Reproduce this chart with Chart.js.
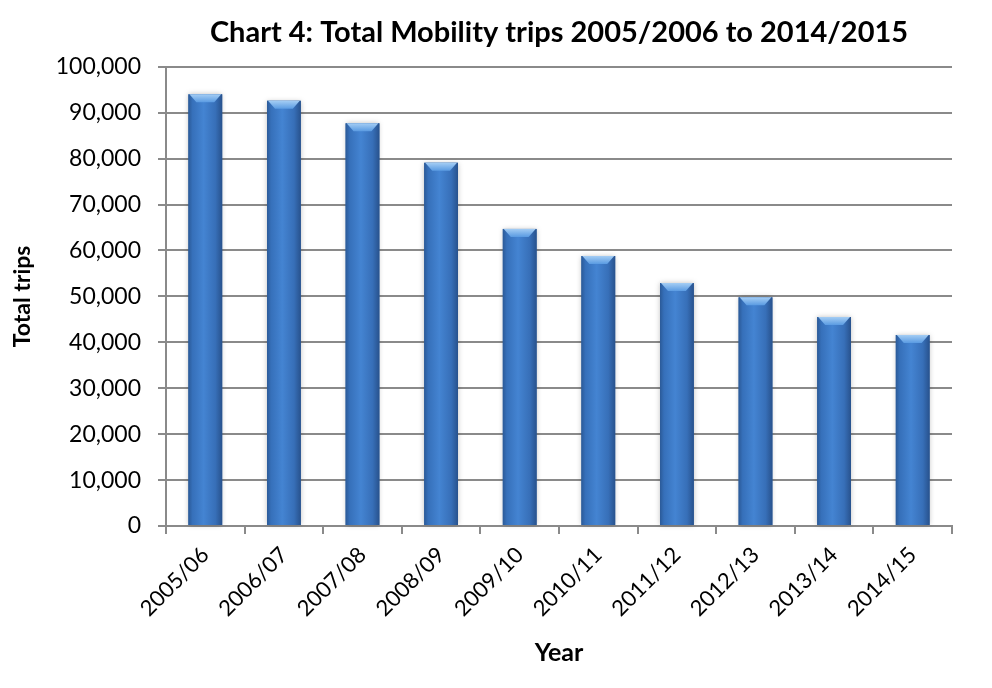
<!DOCTYPE html>
<html>
<head>
<meta charset="utf-8">
<script src="https://cdn.jsdelivr.net/npm/chart.js@4.4.1/dist/chart.umd.min.js"></script>
<style>
  html, body { margin: 0; padding: 0; background: #ffffff; }
  #wrap { width: 992px; height: 688px; }
</style>
</head>
<body>
<div id="wrap"><canvas id="grafico"></canvas></div>
<script>
// Viagens por ano fiscal
const anos = ['2005/06', '2006/07', '2007/08', '2008/09', '2009/10',
              '2010/11', '2011/12', '2012/13', '2013/14', '2014/15'];
const viagens = [94000, 92600, 87700, 79100, 64700, 58800, 52900, 49800, 45500, 41600];
const ticksY = [0, 10000, 20000, 30000, 40000, 50000, 60000, 70000, 80000, 90000, 100000];

const fonte = 'Lato, "Liberation Sans", sans-serif';
const cinza = '#8a8a8a';

// sombreamento tipo cilindro + chanfro no topo de cada barra
const efeitoBarras = {
    id: 'efeitoBarras',
    afterDatasetsDraw(chart) {
        const ctx = chart.ctx;
        chart.getDatasetMeta(0).data.forEach(bar => {
            const x0 = bar.x - bar.width / 2;
            const x1 = bar.x + bar.width / 2;
            const alt = bar.base - bar.y;

            ctx.save();
            ctx.shadowColor = 'rgba(0, 0, 0, 0.25)';
            ctx.shadowBlur = 5;
            const g = ctx.createLinearGradient(x0, 0, x1, 0);
            g.addColorStop(0, '#2b5a98');
            g.addColorStop(0.12, '#3670ba');
            g.addColorStop(0.45, '#4484d2');
            g.addColorStop(0.8, '#376fb8');
            g.addColorStop(1, '#28528d');
            ctx.fillStyle = g;
            ctx.fillRect(x0, bar.y, bar.width, alt);
            ctx.restore();

            const h = 8;
            const t = ctx.createLinearGradient(0, bar.y, 0, bar.y + h);
            t.addColorStop(0, '#a4cdf4');
            t.addColorStop(1, '#5a9be2');
            ctx.save();
            ctx.beginPath();
            ctx.moveTo(x0 + 1, bar.y);
            ctx.lineTo(x1 - 1, bar.y);
            ctx.lineTo(x1 - h, bar.y + h);
            ctx.lineTo(x0 + h, bar.y + h);
            ctx.closePath();
            ctx.fillStyle = t;
            ctx.fill();
            ctx.restore();
        });
    }
};

new Chart(document.getElementById('grafico'), {
    type: 'bar',
    data: {
        labels: anos,
        datasets: [{
            label: 'Total trips',
            data: viagens,
            backgroundColor: '#3670ba',
            borderWidth: 0,
            barPercentage: 0.43,
            categoryPercentage: 1
        }]
    },
    options: {
        responsive: true,
        maintainAspectRatio: false,
        animation: false,
        layout: { padding: { top: 0, right: 40, bottom: 0, left: 0 } },
        plugins: {
            legend: { display: false },
            tooltip: { enabled: false },
            title: {
                display: true,
                text: 'Chart 4: Total Mobility trips 2005/2006 to 2014/2015',
                color: '#000000',
                fullSize: false,
                font: { family: fonte, size: 29, weight: 'bold' },
                padding: { top: 15, bottom: 17 }
            }
        },
        scales: {
            y: {
                min: 0,
                max: 100000,
                afterBuildTicks: scale => { scale.ticks = ticksY.map(v => ({ value: v })); },
                afterFit: scale => { scale.width = 166; },
                border: { color: cinza, width: 2 },
                grid: { color: cinza, lineWidth: 2, tickLength: 8 },
                ticks: {
                    color: '#000000',
                    padding: 17,
                    font: { family: fonte, size: 23 },
                    callback: v => v.toLocaleString('en-US')
                },
                title: {
                    display: true,
                    text: 'Total trips',
                    color: '#000000',
                    font: { family: fonte, size: 23, weight: 'bold' },
                    padding: { top: 9, bottom: 0 }
                }
            },
            x: {
                afterFit: scale => { scale.height = 162; },
                border: { color: cinza, width: 2 },
                grid: { offset: true, drawOnChartArea: false, color: cinza, lineWidth: 2, tickLength: 8 },
                ticks: {
                    color: '#000000',
                    maxRotation: 45,
                    minRotation: 45,
                    padding: 8,
                    font: { family: fonte, size: 22 }
                },
                title: {
                    display: true,
                    text: 'Year',
                    color: '#000000',
                    font: { family: fonte, size: 25, weight: 'bold' },
                    padding: { top: 0, bottom: 20 }
                }
            }
        }
    },
    plugins: [efeitoBarras]
});
</script>
</body>
</html>
